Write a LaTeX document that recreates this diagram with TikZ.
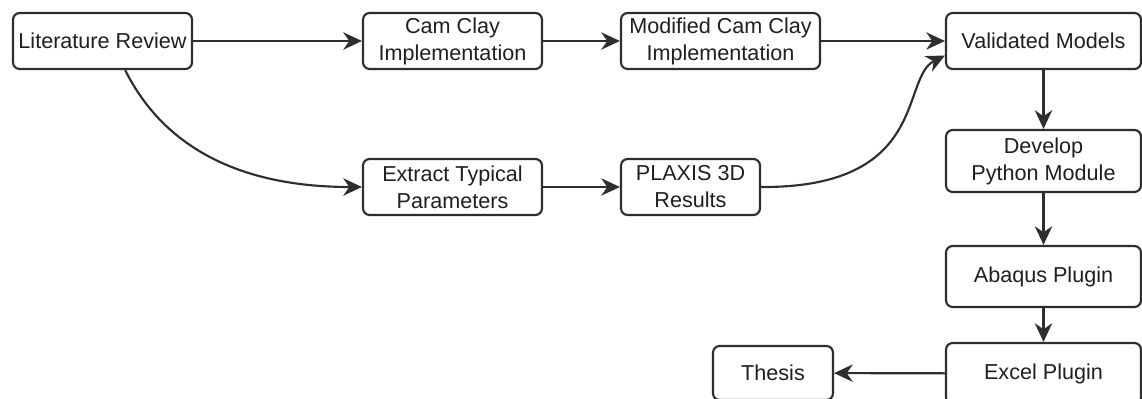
\documentclass[tikz,border=0pt]{standalone}
\usepackage{fontspec}
\setmainfont{Liberation Sans}
\usetikzlibrary{arrows.meta,calc}
\definecolor{boxline}{HTML}{2E2E2E}
\definecolor{labeltext}{HTML}{1F1F1F}

\begin{document}
\begin{tikzpicture}[x=0.75pt, y=-0.75pt, >={Stealth[length=14pt, width=13pt, inset=4.5pt]},
  flowbox/.style={draw=boxline, line width=1.6pt, rounded corners=5pt, fill=white,
    align=center, inner sep=0pt, text=labeltext, font=\fontsize{16.2}{20.2}\selectfont},
  flow/.style={->, draw=boxline, line width=1.6pt}]
  \useasboundingbox (0,0) rectangle (1142,399);
  % top row
  \node[flowbox, minimum width=134.25pt, minimum height=42pt] (lit) at (102.5,41) {Literature Review};
  \node[flowbox, minimum width=134.25pt, minimum height=42pt] (cam) at (452.5,41) {Cam Clay\\Implementation};
  \node[flowbox, minimum width=149.25pt, minimum height=42pt] (mcc) at (720.5,41) {Modified Cam Clay\\Implementation};
  \node[flowbox, minimum width=146.25pt, minimum height=42pt] (val) at (1043.5,41) {Validated Models};
  % second row
  \node[flowbox, minimum width=134.25pt, minimum height=42pt] (ext) at (452.5,187) {Extract Typical\\Parameters};
  \node[flowbox, minimum width=104.25pt, minimum height=42pt] (plx) at (690.5,187) {PLAXIS 3D\\Results};
  % right column
  \node[flowbox, minimum width=146.25pt, minimum height=46.5pt] (dev) at (1043.5,161) {Develop\\Python Module};
  \node[flowbox, minimum width=146.25pt, minimum height=45.75pt] (aba) at (1043.5,276.5) {Abaqus Plugin};
  \node[flowbox, minimum width=146.25pt, minimum height=45.75pt] (exc) at (1043.5,373.5) {Excel Plugin};
  \node[flowbox, minimum width=90pt, minimum height=40.5pt] (ths) at (773,373) {Thesis};

  \draw[flow] (lit) -- (cam);
  \draw[flow] (cam) -- (mcc);
  \draw[flow] (mcc) -- (val);
  \draw[flow] ($(lit.south)!0.25!(lit.south east)$) .. controls (160,140) and (230,187) .. (ext.west);
  \draw[flow] (ext) -- (plx);
  \draw[flow] (plx.east) .. controls (930,188) and (900,78) .. ($(val.west)!0.5!(val.south west)$);
  \draw[flow] (val) -- (dev);
  \draw[flow] (dev) -- (aba);
  \draw[flow] (aba) -- (exc);
  \draw[flow] (exc) -- (ths);
\end{tikzpicture}
\end{document}
